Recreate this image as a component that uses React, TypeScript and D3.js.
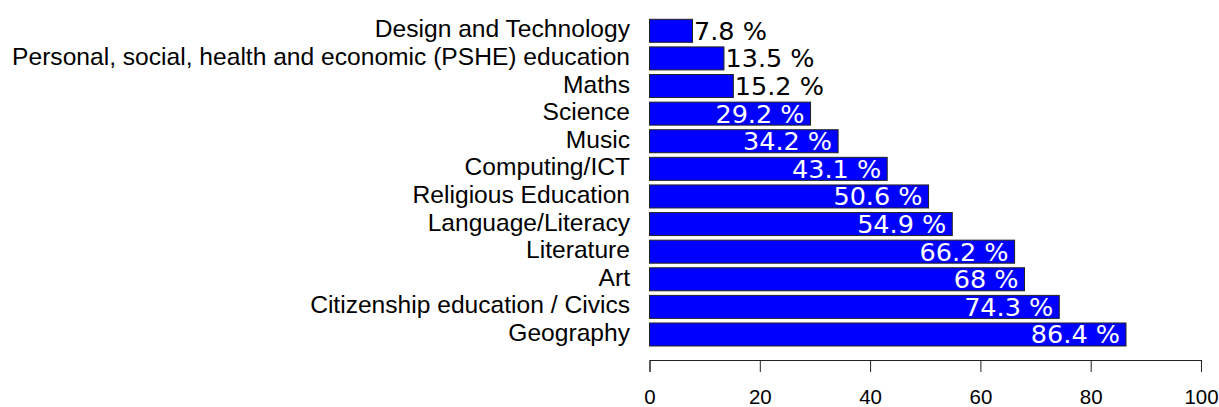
import React, { useEffect, useRef } from 'react';
import * as d3 from 'd3';

// subjects, top to bottom
const subjects = [
  'Design and Technology',
  'Personal, social, health and economic (PSHE) education',
  'Maths',
  'Science',
  'Music',
  'Computing/ICT',
  'Religious Education',
  'Language/Literacy',
  'Literature',
  'Art',
  'Citizenship education / Civics',
  'Geography',
];
const shares = [7.8, 13.5, 15.2, 29.2, 34.2, 43.1, 50.6, 54.9, 66.2, 68, 74.3, 86.4];
const xTicks = [0, 20, 40, 60, 80, 100];

const W = 1219;
const H = 407;

const App: React.FC = () => {
  const svgRef = useRef<SVGSVGElement>(null);

  useEffect(() => {
    if (!svgRef.current) return;
    const svg = d3.select(svgRef.current);
    svg.selectAll('*').remove();

    const x = d3.scaleLinear().domain([0, 100]).range([649.5, 1201]);
    const y = d3.scaleBand<string>()
      .domain(subjects)
      .range([19.3, 346])
      .paddingInner(0.2 / 1.2)
      .paddingOuter(0);

    const rows = subjects.map((s, i) => ({ name: s, value: shares[i] }));

    // bars
    svg.append('g')
      .selectAll('rect')
      .data(rows)
      .enter()
      .append('rect')
      .attr('x', x(0))
      .attr('y', d => y(d.name)!)
      .attr('width', d => x(d.value) - x(0))
      .attr('height', y.bandwidth())
      .attr('fill', '#0000ff')
      .attr('stroke', '#222')
      .attr('stroke-width', 1);

    // category labels
    svg.append('g')
      .selectAll('text')
      .data(rows)
      .enter()
      .append('text')
      .attr('x', 630)
      .attr('y', d => y(d.name)! + y.bandwidth() / 2 + 6.5)
      .attr('text-anchor', 'end')
      .attr('font-family', '"Liberation Sans", Arial, Helvetica, sans-serif')
      .attr('font-size', 24.6)
      .attr('fill', '#000')
      .text(d => d.name);

    // value labels: small bars outside in black, rest inside in white
    svg.append('g')
      .selectAll('text')
      .data(rows)
      .enter()
      .append('text')
      .attr('x', d => (d.value < 20 ? x(d.value) + 1.5 : x(d.value) - 6))
      .attr('y', d => y(d.name)! + y.bandwidth() / 2 + 9)
      .attr('text-anchor', d => (d.value < 20 ? 'start' : 'end'))
      .attr('font-family', '"DejaVu Sans", sans-serif')
      .attr('font-size', 25.5)
      .attr('fill', d => (d.value < 20 ? '#000' : '#fff'))
      .text(d => `${d.value} %`);

    // x axis
    const axis = d3.axisBottom(x)
      .tickValues(xTicks)
      .tickFormat(d3.format('d'))
      .tickSize(12)
      .tickSizeOuter(12)
      .tickPadding(17);

    const ax = svg.append('g')
      .attr('transform', 'translate(0,360)')
      .call(axis);
    ax.select('.domain').attr('stroke', '#222');
    ax.selectAll('.tick line').attr('stroke', '#222');
    ax.selectAll('.tick text')
      .attr('font-family', '"Liberation Sans", Arial, Helvetica, sans-serif')
      .attr('font-size', 20.5)
      .attr('fill', '#000');
  }, []);

  return (
    <svg
      ref={svgRef}
      width={W}
      height={H}
      style={{ position: 'absolute', left: 0, top: 0, background: '#fff' }}
    />
  );
};

export default App;
